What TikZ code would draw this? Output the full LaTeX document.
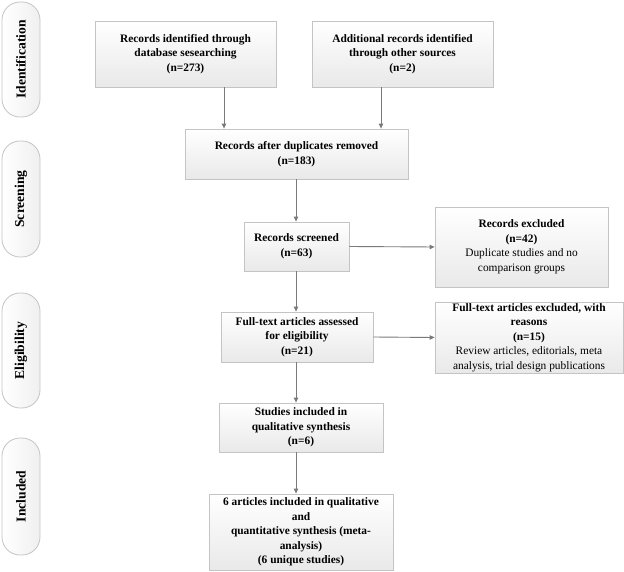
\documentclass[tikz,border=0pt]{standalone}
\usepackage{fontspec}
\setmainfont{Liberation Serif}
\usetikzlibrary{arrows.meta,shadings}
\definecolor{bord}{HTML}{C4C4C4}
\definecolor{arrc}{HTML}{7A7A7A}
\definecolor{fillb}{HTML}{E9E9E9}
\tikzset{
  box/.style={draw=bord, line width=0.8pt, top color=white, bottom color=fillb,
    align=center, inner sep=0pt,
    font=\fontsize{11.4}{14.5}\selectfont},
  pill/.style={draw=bord, line width=0.8pt, left color=white, right color=fillb!70,
    rounded corners=18pt, minimum width=38pt, inner sep=0pt,
    font=\fontsize{13.6}{15}\selectfont\bfseries},
  arr/.style={draw=arrc, line width=0.9pt, -{Triangle[length=5pt,width=4.5pt]}}
}
\begin{document}
\begin{tikzpicture}[x=1pt,y=-1pt]
\useasboundingbox (0,0) rectangle (624,572);
% phase pills
\node[pill, minimum height=115pt] (p1) at (21,59.5) {\rotatebox{90}{Identification}};
\node[pill, minimum height=116pt] (p2) at (21,199) {\rotatebox{90}{Screening}};
\node[pill, minimum height=115pt] (p3) at (21,350.5) {\rotatebox{90}{Eligibility}};
\node[pill, minimum height=117pt] (p4) at (21,496.5) {\rotatebox{90}{Included}};
% boxes
\node[box, minimum width=181pt, minimum height=66pt] (id1) at (185.5,54)
  {\textbf{Records identified through}\\\textbf{database sesearching}\\\textbf{(n=273)}};
\node[box, minimum width=181pt, minimum height=66pt] (id2) at (402.5,54)
  {\textbf{Additional records identified}\\\textbf{through other sources}\\\textbf{(n=2)}};
\node[box, minimum width=223pt, minimum height=50pt] (dup) at (296.5,154)
  {\textbf{Records after duplicates removed}\\\textbf{(n=183)}};
\node[box, minimum width=105pt, minimum height=49pt] (scr) at (296.5,246.5)
  {\textbf{Records screened}\\\textbf{(n=63)}};
\node[box, minimum width=173pt, minimum height=80pt] (ex1) at (521.5,247)
  {\textbf{Records excluded}\\\textbf{(n=42)}\\Duplicate studies and no\\comparison groups};
\node[box, minimum width=152pt, minimum height=50pt] (full) at (297,337)
  {\textbf{Full-text articles assessed}\\\textbf{for eligibility}\\\textbf{(n=21)}};
\node[box, minimum width=188pt, minimum height=71pt] (ex2) at (529,337.5)
  {\textbf{Full-text articles excluded, with}\\\textbf{reasons}\\\textbf{(n=15)}\\Review articles, editorials, meta\\analysis, trial design publications};
\node[box, minimum width=164pt, minimum height=49pt] (stud) at (301,427.5)
  {\textbf{Studies included in}\\\textbf{qualitative synthesis}\\\textbf{(n=6)}};
\node[box, minimum width=184pt, minimum height=76pt] (fin) at (301,532)
  {\textbf{6 articles included in qualitative}\\\textbf{and}\\\textbf{quantitative synthesis (meta-}\\\textbf{analysis)}\\\textbf{(6 unique studies)}};
% connectors
\coordinate (a1) at ([xshift=38.5pt]id1.south);
\coordinate (a2) at ([xshift=-21.5pt]id2.south);
\coordinate (a3) at ([xshift=-0.5pt]dup.south);
\draw[arr] (a1) -- (a1 |- dup.north);
\draw[arr] (a2) -- (a2 |- dup.north);
\draw[arr] (a3) -- (a3 |- scr.north);
\draw[arr] (scr.east) -- (ex1.west);
\draw[arr] (a3 |- scr.south) -- (a3 |- full.north);
\draw[arr] (full.east) -- (ex2.west);
\draw[arr] (a3 |- full.south) -- (a3 |- stud.north);
\draw[arr] (a3 |- stud.south) -- (a3 |- fin.north);
\end{tikzpicture}
\end{document}
